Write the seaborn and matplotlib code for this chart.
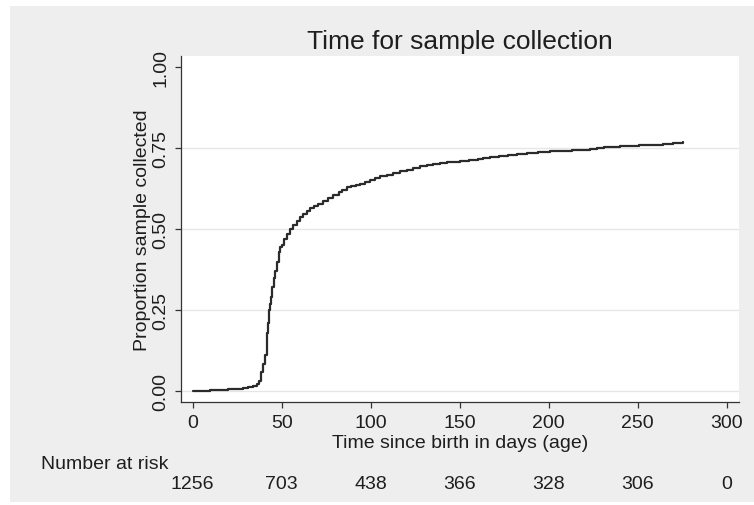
import matplotlib
matplotlib.use("Agg")
import matplotlib.pyplot as plt
import seaborn as sns
import pandas as pd
from matplotlib.patches import Rectangle
from matplotlib.transforms import blended_transform_factory

# ---- data ----
time_days = [0, 5, 10, 15, 20, 25, 28, 31, 34, 36, 37.5, 38.5, 39.5, 40.5,
             41.5, 42, 42.5, 43, 43.5, 44, 44.5, 45.5, 46.5, 47.5, 48.5, 49.3,
             50, 51.5, 53, 54.5, 56.5, 58.5, 60.3, 62, 64, 66, 68, 70.5, 73.4,
             76, 79, 82, 84, 86.5, 89, 91.5, 94, 97, 99.6, 102.5, 105.2, 109,
             112.7, 116.5, 120.2, 124, 127.7, 131.5, 135.2, 139, 142.7, 147,
             150.2, 155, 160, 163.3, 167, 172, 177, 182, 188, 194, 200.7, 207,
             213, 219.4, 223, 227, 231, 234.4, 240, 246, 251, 256.9, 264.4,
             270, 275.6]
proportion = [0.000, 0.001, 0.002, 0.004, 0.005, 0.006, 0.008, 0.011, 0.016,
              0.022, 0.032, 0.06, 0.085, 0.11, 0.15, 0.18, 0.21, 0.25, 0.27,
              0.29, 0.32, 0.35, 0.37, 0.40, 0.43, 0.445, 0.452, 0.47, 0.486,
              0.50, 0.513, 0.525, 0.537, 0.546, 0.555, 0.564, 0.572, 0.578,
              0.586, 0.595, 0.606, 0.614, 0.621, 0.629, 0.632, 0.635, 0.639,
              0.646, 0.652, 0.657, 0.663, 0.668, 0.673, 0.679, 0.684, 0.689,
              0.694, 0.698, 0.702, 0.704, 0.706, 0.708, 0.710, 0.713, 0.716,
              0.719, 0.724, 0.726, 0.729, 0.732, 0.735, 0.738, 0.741, 0.743,
              0.744, 0.745, 0.747, 0.751, 0.753, 0.755, 0.757, 0.758, 0.759,
              0.761, 0.763, 0.765, 0.768]
x_ticks = [0, 50, 100, 150, 200, 250, 300]
y_ticks = [0.0, 0.25, 0.50, 0.75, 1.00]
y_tick_labels = ["0.00", "0.25", "0.50", "0.75", "1.00"]
at_risk = [1256, 703, 438, 366, 328, 306, 0]

title = "Time for sample collection"
xlabel = "Time since birth in days (age)"
ylabel = "Proportion sample collected"
risk_label = "Number at risk"

df = pd.DataFrame({"t": time_days, "p": proportion})

sns.set_theme(style="white")
plt.rcParams["font.family"] = ["Liberation Sans", "DejaVu Sans"]

W, H = 754, 506
fig = plt.figure(figsize=(W / 100, H / 100), dpi=100, facecolor="white")

# gray outer region
bg = Rectangle((10 / W, 3 / H), (W - 10) / W, (503 - 7) / H,
               transform=fig.transFigure, facecolor="#eeeeee",
               edgecolor="none", zorder=-10)
fig.patches.append(bg)

left, right, top, bottom = 180.7, 739, 57, 402.7
ax = fig.add_axes([left / W, 1 - bottom / H, (right - left) / W, (bottom - top) / H])
ax.set_zorder(5)
ax.set_facecolor("white")

txt = "#1e1e1e"
fs = 14
for yv in [0.0, 0.25, 0.50, 0.75]:
    ax.axhline(yv, color="#e6e6e6", lw=1.0, zorder=1)

sns.lineplot(data=df, x="t", y="p", ax=ax, drawstyle="steps-post",
             color="#2b2b2b", linewidth=1.6, zorder=3)

ax.set_xlim(-6.74, 306.9)
ax.set_ylim(-0.033, 1.035)
ax.set_xticks(x_ticks)
ax.set_xticklabels([str(v) for v in x_ticks], fontsize=fs, color=txt)
ax.set_yticks(y_ticks)
ax.set_yticklabels(y_tick_labels, fontsize=fs, color=txt, rotation=90, va="center")

for s in ["top", "right"]:
    ax.spines[s].set_visible(False)
for s in ["left", "bottom"]:
    ax.spines[s].set_color("#333333")
    ax.spines[s].set_linewidth(0.9)

ax.tick_params(axis="both", which="major", direction="out", length=4,
               width=0.9, color="#333333", left=True, bottom=True)
ax.tick_params(axis="x", pad=4.5)
ax.tick_params(axis="y", pad=4)

ax.set_xlabel(xlabel, fontsize=fs, color=txt, labelpad=2.5)
ax.set_ylabel(ylabel, fontsize=fs, color=txt, labelpad=1)
ax.set_title(title, fontsize=19, color=txt, pad=6)

# number at risk table
trans = blended_transform_factory(ax.transData, fig.transFigure)
fig.text(41 / W, 1 - 465 / H, risk_label, fontsize=fs, color=txt,
         ha="left", va="center")
for xv, n in zip(x_ticks, at_risk):
    ax.text(xv, 1 - 485 / H, str(n), transform=trans, fontsize=fs,
            color=txt, ha="center", va="center", clip_on=False)

fig.savefig("out.png", dpi=100, facecolor=fig.get_facecolor())
